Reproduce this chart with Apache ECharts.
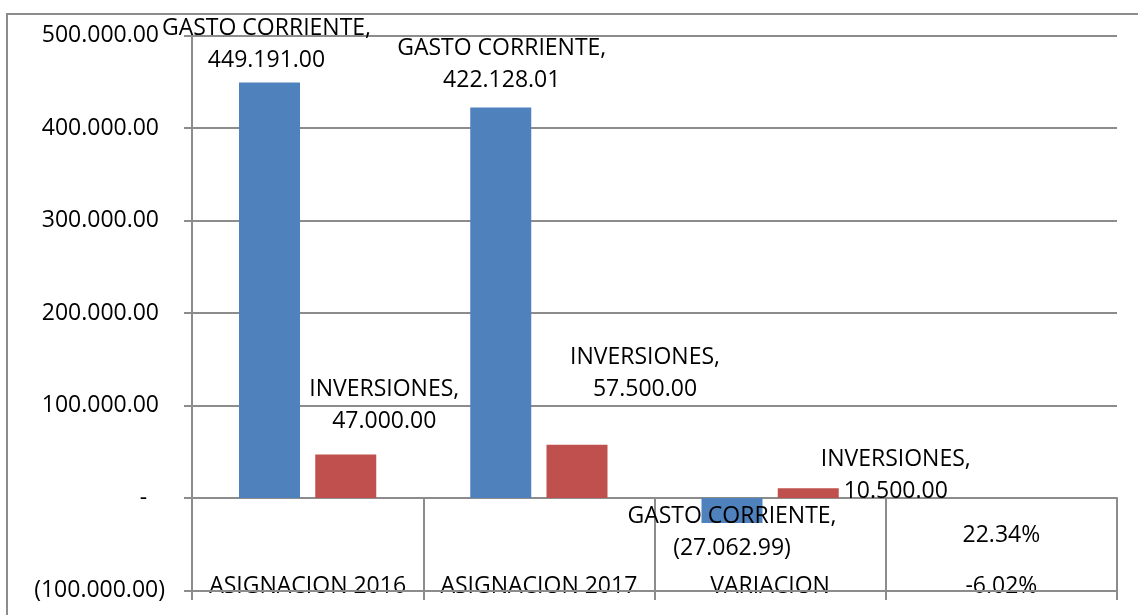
<!DOCTYPE html>
<html>
<head>
<meta charset="utf-8">
<script src="https://cdn.jsdelivr.net/npm/echarts/dist/echarts.min.js"></script>
<style>
  html, body { margin: 0; padding: 0; background: #fff; }
  #chart { width: 1138px; height: 615px; }
</style>
</head>
<body>
<div id="chart"></div>
<script>
// datos
const categories = ['ASIGNACION 2016', 'ASIGNACION 2017', 'VARIACION', '-6.02%']
const pctRow = ['', '', '', '22.34%']
const gastoName = 'GASTO CORRIENTE'
const invName = 'INVERSIONES'
const gasto = [449191.00, 422128.01, -27062.99, '-']
const inversiones = [47000.00, 57500.00, 10500.00, '-']
const yMin = -100000
const yMax = 500000
const yStep = 100000

// desplazamiento de las etiquetas (px)
const gastoShift = [[-3, -6], [1, -11], [0, 21.5], [0, 0]]
const invShift = [[38.5, -17.5], [68, -39], [87.5, 19], [0, 0]]

const FONT = '"Open Sans", "Noto Sans", sans-serif'
const GRID = '#8c8c8c'

// 449191 -> 449.191.00 , negativos entre paréntesis
function fmt (v) {
  const s = Math.abs(v).toFixed(2).split('.')
  const t = s[0].replace(/\B(?=(\d{3})+(?!\d))/g, '.') + '.' + s[1]
  return v < 0 ? '(' + t + ')' : t
}

function buildData (values, shift, name) {
  return values.map((v, i) => {
    if (v === '-') return v
    return {
      value: v,
      label: {
        position: v < 0 ? 'inside' : 'top',
        distance: 0,
        offset: shift[i],
        formatter: name + ',\n' + fmt(v)
      }
    }
  })
}

// eje de texto en la parte baja (sin línea)
function textAxis (labels, margin) {
  return {
    type: 'category',
    data: labels,
    position: 'bottom',
    axisLine: { show: false, onZero: false },
    axisTick: { show: false },
    splitLine: { show: false },
    axisLabel: {
      inside: true,
      interval: 0,
      margin: margin,
      color: '#000',
      fontFamily: FONT,
      fontSize: 23,
      lineHeight: 24,
      hideOverlap: false
    }
  }
}

let myChart = echarts.init(document.getElementById('chart'))
let option = {
  animation: false,
  textStyle: { fontFamily: FONT },
  grid: {
    left: 192,
    right: 21,
    top: 35.5,
    bottom: 24.5,
    containLabel: false,
    outerBoundsMode: 'none'
  },
  // marco exterior
  graphic: [{
    type: 'rect',
    shape: { x: 7, y: 14, width: 1200, height: 700 },
    style: { fill: 'none', stroke: GRID, lineWidth: 2 },
    silent: true
  }],
  xAxis: [
    {
      type: 'category',
      data: categories,
      axisLine: { onZero: true, lineStyle: { color: GRID, width: 2 } },
      axisTick: { show: true, length: 102, lineStyle: { color: GRID, width: 2 } },
      axisLabel: { show: false },
      splitLine: { show: false }
    },
    textAxis(categories, -8),
    textAxis(pctRow, 43)
  ],
  yAxis: {
    type: 'value',
    min: yMin,
    max: yMax,
    interval: yStep,
    axisLine: { show: true, lineStyle: { color: GRID, width: 2 } },
    axisTick: { show: true, length: 8, lineStyle: { color: GRID, width: 2 } },
    axisLabel: {
      margin: 27,
      color: '#000',
      fontFamily: FONT,
      fontSize: 23,
      formatter: v => v === 0 ? '-   ' : (v < 0 ? fmt(v) : fmt(v) + ' ')
    },
    splitLine: {
      show: true,
      lineStyle: { color: GRID, width: 2 }
    }
  },
  series: [
    {
      name: gastoName,
      type: 'bar',
      barWidth: 61,
      barGap: '25%',
      itemStyle: { color: '#4f81bd' },
      label: { show: true, color: '#000', fontFamily: FONT, fontSize: 23, lineHeight: 32, align: 'center' },
      data: buildData(gasto, gastoShift, gastoName),
      // línea de cuadrícula inferior
      markLine: {
        silent: true,
        symbol: 'none',
        label: { show: false },
        lineStyle: { color: GRID, width: 2, type: 'solid' },
        data: [{ yAxis: yMin }]
      }
    },
    {
      name: invName,
      type: 'bar',
      barWidth: 61,
      barGap: '25%',
      itemStyle: { color: '#c0504d' },
      label: { show: true, color: '#000', fontFamily: FONT, fontSize: 23, lineHeight: 32, align: 'center' },
      data: buildData(inversiones, invShift, invName)
    }
  ]
}
myChart.setOption(option)
</script>
</body>
</html>
